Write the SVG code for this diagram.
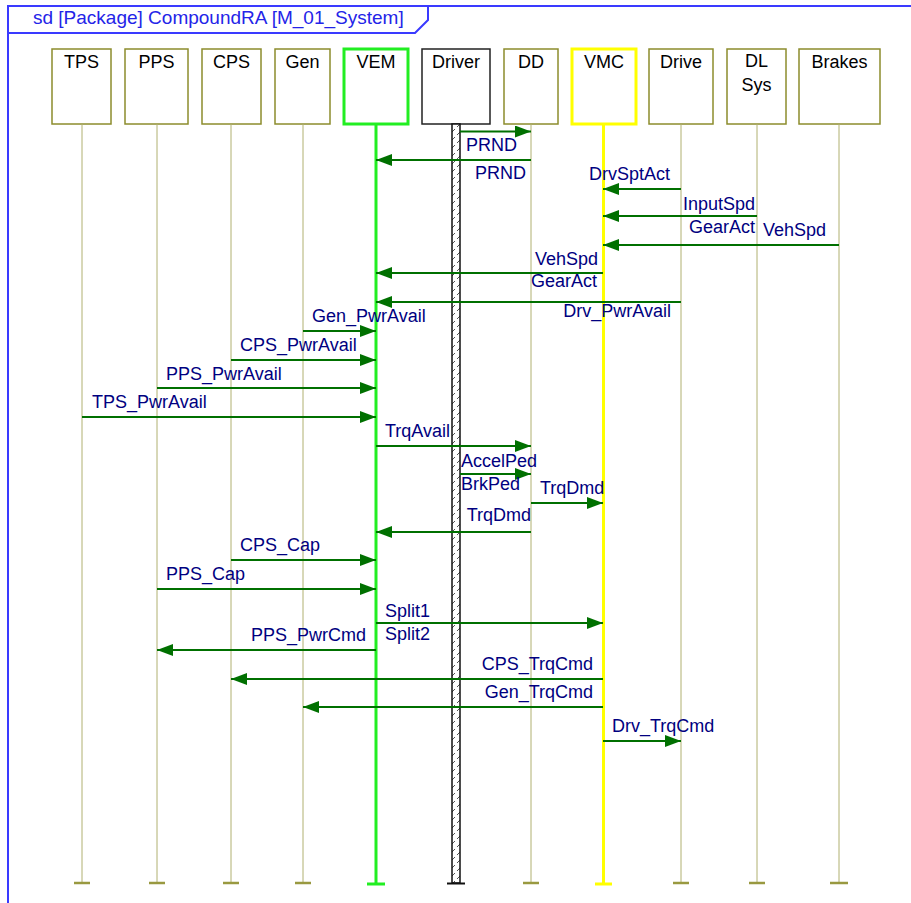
<svg xmlns="http://www.w3.org/2000/svg" width="911" height="903" viewBox="0 0 911 903">
  <defs>
    <marker id="arrow" viewBox="0 0 16 12" markerWidth="16" markerHeight="12" refX="16" refY="6" orient="auto" markerUnits="userSpaceOnUse">
      <path d="M0,0 L16,6 L0,12 z" fill="#007000"/>
    </marker>
    <pattern id="hatch" patternUnits="userSpaceOnUse" width="8" height="8">
      <rect width="8" height="8" fill="#fff"/>
      <path d="M1,7 L7,1" stroke="#555" stroke-width="1"/>
    </pattern>
  </defs>
  <style>
    text { font-family: "Liberation Sans", Arial, sans-serif; }
    .frame { fill: none; stroke: #3a3aff; stroke-width: 2; }
    .title { font-size: 19px; fill: #2424e8; }
    .box { fill: #fff; stroke: #8c8c2c; stroke-width: 1.5; }
    .name { font-size: 18px; fill: #000; text-anchor: middle; }
    .life { stroke: #b0b070; stroke-width: 1; }
    .tick { stroke: #999940; stroke-width: 2.5; }
    .msg { stroke: #007000; stroke-width: 2; fill: none; marker-end: url(#arrow); }
    .lbl { font-size: 18px; fill: #000080; }
    .end { text-anchor: end; }
  </style>

  <!-- frame and title tab -->
  <path class="frame" d="M8,910 V6 H915"/>
  <path class="frame" d="M8,33 H415 L428,20 V6"/>
  <text class="title" x="33" y="24">sd [Package] CompoundRA [M_01_System]</text>

  <!-- lifelines -->
  <g id="TPS">
    <rect class="box" x="52" y="49" width="59" height="75"/>
    <text class="name" x="81.5" y="68">TPS</text>
    <line class="life" x1="82" y1="124" x2="82" y2="883"/>
    <line class="tick" x1="74" y1="883" x2="90" y2="883"/>
  </g>
  <g id="PPS">
    <rect class="box" x="125" y="49" width="63" height="75"/>
    <text class="name" x="156.5" y="68">PPS</text>
    <line class="life" x1="157" y1="124" x2="157" y2="883"/>
    <line class="tick" x1="149" y1="883" x2="165" y2="883"/>
  </g>
  <g id="CPS">
    <rect class="box" x="202" y="49" width="59" height="75"/>
    <text class="name" x="231.5" y="68">CPS</text>
    <line class="life" x1="231" y1="124" x2="231" y2="883"/>
    <line class="tick" x1="223" y1="883" x2="239" y2="883"/>
  </g>
  <g id="Gen">
    <rect class="box" x="275" y="49" width="55" height="75"/>
    <text class="name" x="302.5" y="68">Gen</text>
    <line class="life" x1="303" y1="124" x2="303" y2="883"/>
    <line class="tick" x1="295" y1="883" x2="311" y2="883"/>
  </g>
  <g id="VEM">
    <rect x="344" y="49" width="64" height="75" fill="#fff" stroke="#22ee22" stroke-width="3"/>
    <text class="name" x="376" y="68">VEM</text>
    <line x1="376" y1="124" x2="376" y2="883" stroke="#22ee22" stroke-width="3"/>
    <line x1="367" y1="884" x2="385" y2="884" stroke="#22ee22" stroke-width="3"/>
  </g>
  <g id="Driver">
    <rect x="422" y="49" width="68" height="75" fill="#fff" stroke="#222" stroke-width="1.5"/>
    <text class="name" x="456" y="68">Driver</text>
    <rect x="452" y="124" width="8" height="759" fill="url(#hatch)" stroke="#111" stroke-width="1.5"/>
    <line x1="447" y1="883.5" x2="465" y2="883.5" stroke="#111" stroke-width="2"/>
  </g>
  <g id="DD">
    <rect class="box" x="504" y="49" width="54" height="75"/>
    <text class="name" x="531" y="68">DD</text>
    <line class="life" x1="531" y1="124" x2="531" y2="883"/>
    <line class="tick" x1="523" y1="883" x2="539" y2="883"/>
  </g>
  <g id="VMC">
    <rect x="572" y="49" width="64" height="75" fill="#fff" stroke="#ffff00" stroke-width="3"/>
    <text class="name" x="604" y="68">VMC</text>
    <line x1="603.5" y1="124" x2="603.5" y2="883" stroke="#ffff00" stroke-width="3"/>
    <line x1="595" y1="884" x2="612" y2="884" stroke="#ffff00" stroke-width="3"/>
  </g>
  <g id="Drive">
    <rect class="box" x="649" y="49" width="64" height="75"/>
    <text class="name" x="681" y="68">Drive</text>
    <line class="life" x1="681" y1="124" x2="681" y2="883"/>
    <line class="tick" x1="673" y1="883" x2="689" y2="883"/>
  </g>
  <g id="DLSys">
    <rect class="box" x="727" y="49" width="59" height="75"/>
    <text class="name" x="756.5" y="67">DL</text>
    <text class="name" x="756.5" y="91">Sys</text>
    <line class="life" x1="757" y1="124" x2="757" y2="883"/>
    <line class="tick" x1="749" y1="883" x2="765" y2="883"/>
  </g>
  <g id="Brakes">
    <rect class="box" x="799" y="49" width="81" height="75"/>
    <text class="name" x="839.5" y="68">Brakes</text>
    <line class="life" x1="839" y1="124" x2="839" y2="883"/>
    <line class="tick" x1="830" y1="883" x2="848" y2="883"/>
  </g>

  <!-- messages -->
  <g id="messages">
    <line class="msg" x1="460" y1="131.5" x2="531" y2="131.5"/>
    <line class="msg" x1="531" y1="160" x2="376" y2="160"/>
    <line class="msg" x1="681" y1="189" x2="603" y2="189"/>
    <line class="msg" x1="757" y1="216" x2="603" y2="216"/>
    <line class="msg" x1="839" y1="245" x2="603" y2="245"/>
    <line class="msg" x1="603" y1="273" x2="376" y2="273"/>
    <line class="msg" x1="681" y1="302" x2="376" y2="302"/>
    <line class="msg" x1="303" y1="331" x2="376" y2="331"/>
    <line class="msg" x1="231" y1="360" x2="376" y2="360"/>
    <line class="msg" x1="157" y1="388" x2="376" y2="388"/>
    <line class="msg" x1="82" y1="417" x2="376" y2="417"/>
    <line class="msg" x1="376" y1="446" x2="531" y2="446"/>
    <line class="msg" x1="460" y1="474" x2="531" y2="474"/>
    <line class="msg" x1="531" y1="503" x2="603" y2="503"/>
    <line class="msg" x1="531" y1="532" x2="376" y2="532"/>
    <line class="msg" x1="231" y1="560" x2="376" y2="560"/>
    <line class="msg" x1="157" y1="589" x2="376" y2="589"/>
    <line class="msg" x1="376" y1="623" x2="603" y2="623"/>
    <line class="msg" x1="376" y1="650" x2="157" y2="650"/>
    <line class="msg" x1="603" y1="679" x2="231" y2="679"/>
    <line class="msg" x1="603" y1="707" x2="303" y2="707"/>
    <line class="msg" x1="603" y1="741" x2="681" y2="741"/>
  </g>

  <!-- message labels -->
  <g id="labels">
    <text class="lbl" x="466" y="151">PRND</text>
    <text class="lbl end" x="526" y="178.5">PRND</text>
    <text class="lbl end" x="670" y="180">DrvSptAct</text>
    <text class="lbl end" x="755" y="209.5">InputSpd</text>
    <text class="lbl end" x="755" y="233">GearAct</text>
    <text class="lbl" x="763" y="236">VehSpd</text>
    <text class="lbl end" x="598" y="264.5">VehSpd</text>
    <text class="lbl end" x="597" y="287">GearAct</text>
    <text class="lbl end" x="671" y="317">Drv_PwrAvail</text>
    <text class="lbl" x="312" y="322">Gen_PwrAvail</text>
    <text class="lbl" x="240" y="351">CPS_PwrAvail</text>
    <text class="lbl" x="166" y="379.5">PPS_PwrAvail</text>
    <text class="lbl" x="92" y="408">TPS_PwrAvail</text>
    <text class="lbl" x="385" y="437">TrqAvail</text>
    <text class="lbl" x="461" y="466.5">AccelPed</text>
    <text class="lbl" x="461" y="490">BrkPed</text>
    <text class="lbl" x="540" y="494">TrqDmd</text>
    <text class="lbl end" x="531" y="521">TrqDmd</text>
    <text class="lbl" x="240" y="551">CPS_Cap</text>
    <text class="lbl" x="166" y="580">PPS_Cap</text>
    <text class="lbl" x="385" y="617">Split1</text>
    <text class="lbl" x="385" y="640">Split2</text>
    <text class="lbl end" x="366" y="641">PPS_PwrCmd</text>
    <text class="lbl end" x="593" y="669.5">CPS_TrqCmd</text>
    <text class="lbl end" x="593" y="697.5">Gen_TrqCmd</text>
    <text class="lbl" x="612" y="732">Drv_TrqCmd</text>
  </g>
</svg>
